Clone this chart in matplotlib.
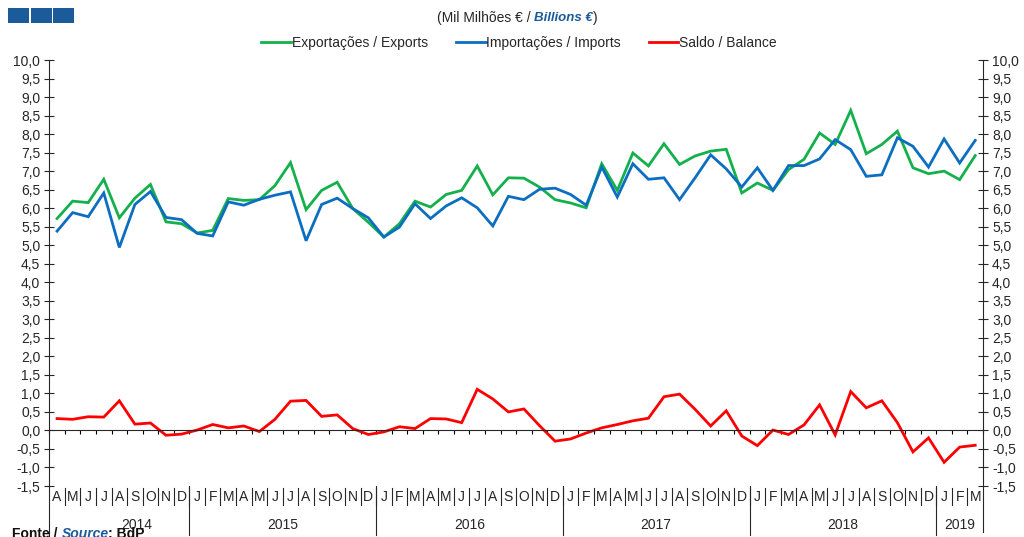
import matplotlib
matplotlib.use("Agg")
import matplotlib.pyplot as plt
from matplotlib.transforms import blended_transform_factory

plt.rcParams['font.family'] = ['Liberation Sans', 'DejaVu Sans']

# monthly values, April 2014 -> March 2019 (billion euro)
months = ['A', 'M', 'J', 'J', 'A', 'S', 'O', 'N', 'D'] + \
    ['J', 'F', 'M', 'A', 'M', 'J', 'J', 'A', 'S', 'O', 'N', 'D'] * 4 + ['J', 'F', 'M']
years = ['2014', '2015', '2016', '2017', '2018', '2019']
year_start = [0, 9, 21, 33, 45, 57]
year_end = [9, 21, 33, 45, 57, 60]

exports = [5.72, 6.19, 6.15, 6.78, 5.74, 6.27, 6.64, 5.63, 5.58, 5.33,
           5.40, 6.26, 6.21, 6.23, 6.61, 7.23, 5.96, 6.48, 6.70, 5.99,
           5.62, 5.22, 5.58, 6.19, 6.03, 6.37, 6.48, 7.14, 6.36, 6.82,
           6.81, 6.57, 6.23, 6.14, 6.01, 7.20, 6.48, 7.49, 7.14, 7.74,
           7.18, 7.41, 7.54, 7.59, 6.41, 6.68, 6.48, 7.04, 7.32, 8.03,
           7.72, 8.64, 7.47, 7.72, 8.08, 7.09, 6.93, 7.00, 6.77, 7.42]
imports = [5.38, 5.88, 5.77, 6.41, 4.94, 6.10, 6.45, 5.75, 5.69, 5.32,
           5.25, 6.17, 6.08, 6.24, 6.35, 6.44, 5.12, 6.10, 6.27, 5.99,
           5.74, 5.22, 5.49, 6.12, 5.72, 6.06, 6.28, 6.01, 5.52, 6.32,
           6.23, 6.51, 6.54, 6.37, 6.08, 7.11, 6.30, 7.20, 6.78, 6.82,
           6.23, 6.82, 7.44, 7.06, 6.57, 7.09, 6.48, 7.15, 7.15, 7.33,
           7.85, 7.58, 6.86, 6.90, 7.90, 7.67, 7.11, 7.87, 7.22, 7.83]
balance = [0.32, 0.30, 0.37, 0.36, 0.80, 0.17, 0.20, -0.13, -0.10, 0.01,
           0.16, 0.07, 0.12, -0.03, 0.30, 0.79, 0.81, 0.38, 0.42, 0.05,
           -0.11, -0.04, 0.10, 0.05, 0.32, 0.31, 0.21, 1.11, 0.85, 0.50,
           0.58, 0.13, -0.29, -0.23, -0.07, 0.07, 0.16, 0.26, 0.33, 0.91,
           0.98, 0.57, 0.12, 0.53, -0.15, -0.41, 0.01, -0.11, 0.15, 0.69,
           -0.12, 1.05, 0.61, 0.80, 0.21, -0.58, -0.20, -0.86, -0.45, -0.40]

W, H = 1024, 537
fig = plt.figure(figsize=(W / 100, H / 100), dpi=100)
left, right, top, bottom = 49.3, 983, 60, 486
ax = fig.add_axes([left / W, 1 - bottom / H, (right - left) / W, (bottom - top) / H])

x = [i + 0.5 for i in range(len(months))]
green, blue, red = '#14B04C', '#0B6EC0', '#FF0000'
txt = '#262626'
fs = 10
ax.plot(x, exports, color=green, lw=2.0, label='Exportações / Exports', solid_joinstyle='miter')
ax.plot(x, imports, color=blue, lw=2.0, label='Importações / Imports', solid_joinstyle='miter')
ax.plot(x, balance, color=red, lw=2.0, label='Saldo / Balance', solid_joinstyle='miter')

ax.set_xlim(0, len(months))
ax.set_ylim(-1.5, 10)
yt = [v / 2 for v in range(-3, 21)]
ax.set_yticks(yt)
ax.set_yticklabels([('%.1f' % v).replace('.', ',') for v in yt])
ax.tick_params(axis='y', direction='inout', length=7, width=0.8, labelsize=fs,
               right=True, labelright=True, pad=3, colors=txt)

# category axis drawn at zero
ax.spines['bottom'].set_position(('data', 0))
ax.spines['top'].set_visible(False)
ax.set_xticks(range(len(months) + 1))
ax.set_xticklabels([])
ax.tick_params(axis='x', direction='out', length=3, width=0.8)
for s in ['left', 'right', 'bottom']:
    ax.spines[s].set_linewidth(0.8)
    ax.spines[s].set_color(txt)

# month / year table under the plot
tr = blended_transform_factory(ax.transData, fig.transFigure)
fy = lambda p: 1 - p / H
ax.plot([0, 0], [fy(486), fy(537)], color=txt, lw=0.8, transform=tr, clip_on=False)
ax.plot([60, 60], [fy(486), fy(532)], color=txt, lw=0.8, transform=tr, clip_on=False)
for i, m in enumerate(months):
    ax.text(i + 0.5, fy(497), m, transform=tr, ha='center', va='center', fontsize=fs, color=txt)
    if i > 0:
        ax.plot([i, i], [fy(488), fy(505)], color=txt, lw=0.8, transform=tr, clip_on=False)
for yr, a, b in zip(years, year_start, year_end):
    if a > 0:
        ax.plot([a, a], [fy(486), fy(535)], color=txt, lw=0.8, transform=tr, clip_on=False)
    c = (a + b) / 2
    if yr == '2014':
        c = 5.6
    ax.text(c, fy(525), yr, transform=tr, ha='center', va='center', fontsize=fs, color=txt)

# legend
ax.legend(loc='center', bbox_to_anchor=(519 / W, fy(43)), bbox_transform=fig.transFigure,
          ncol=3, frameon=False, fontsize=fs, handlelength=2.15, handletextpad=0.05,
          columnspacing=2.0, borderpad=0, labelcolor=txt)

# header squares
for x0 in [8, 31, 53]:
    fig.patches.append(plt.Rectangle((x0 / W, fy(23)), 21 / W, 15 / H, facecolor='#1B5B9A',
                                     edgecolor='none', lw=0,
                                     transform=fig.transFigure, figure=fig))

# title with mixed styles
r = fig.canvas.get_renderer()
t1 = fig.text(437 / W, fy(18), '(Mil Milhões € / ', fontsize=fs, va='center', color=txt)
e = t1.get_window_extent(r)
t2 = fig.text(e.x1 / W, fy(18), 'Billions €', fontsize=fs - 0.5, va='center', color='#1B5B9A',
              fontweight='bold', fontstyle='italic')
e = t2.get_window_extent(r)
fig.text(e.x1 / W, fy(18), ')', fontsize=fs, va='center', color=txt)

# source, cut at the bottom edge
s1 = fig.text(12 / W, fy(526.5), 'Fonte / ', fontsize=10, va='top', fontweight='bold', color='#111111')
e = s1.get_window_extent(r)
s2 = fig.text(e.x1 / W, fy(526.5), 'Source', fontsize=10, va='top', fontweight='bold',
              fontstyle='italic', color='#1B5B9A')
e = s2.get_window_extent(r)
fig.text(e.x1 / W, fy(526.5), ': BdP', fontsize=10, va='top', fontweight='bold', color='#111111')

fig.savefig('out.png', dpi=100)
